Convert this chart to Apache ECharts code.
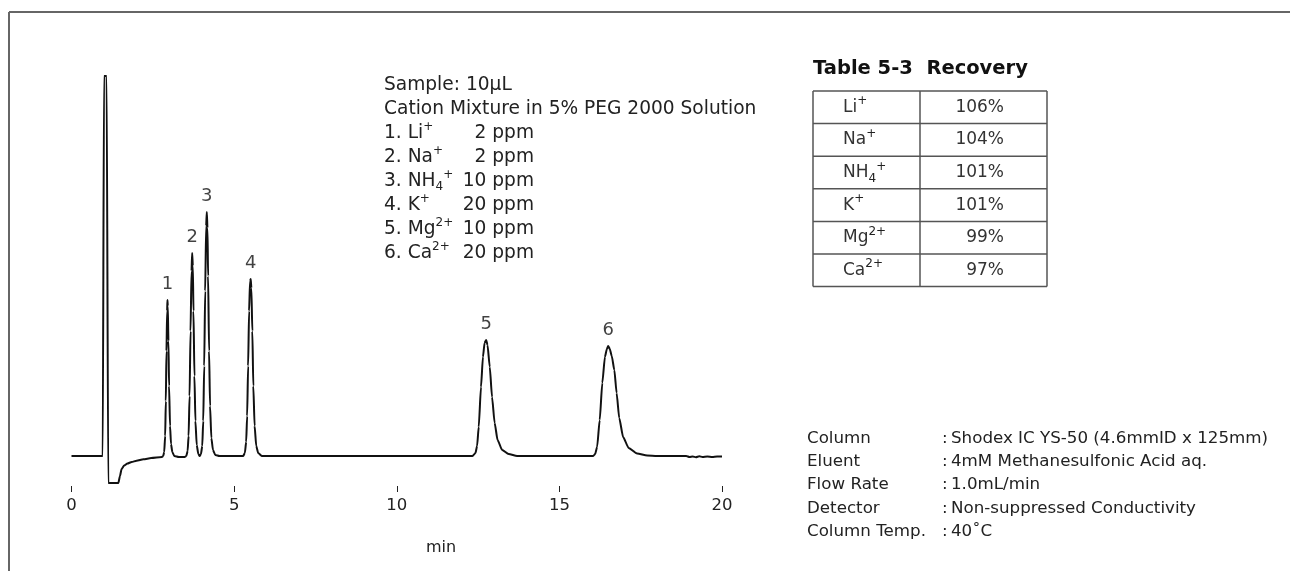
<!DOCTYPE html>
<html><head><meta charset="utf-8">
<script src="https://cdn.jsdelivr.net/npm/echarts@6/dist/echarts.min.js"></script>
<style>html,body{margin:0;padding:0;background:#fff}#c{width:1290px;height:571px}</style>
</head><body><div id="c"></div>
<script>
// ---- chromatogram trace (time in min, detector signal in arbitrary units) ----
const times = [
  0, 0.96, 1.00, 1.08, 1.13, 1.44, 1.49, 1.54, 1.62, 1.72, 1.85, 2.00, 2.21, 2.45, 2.78,
  2.82, 2.85, 2.88, 2.90, 2.92, 2.94, 2.95, 2.96, 2.98, 3.00, 3.03, 3.06, 3.10, 3.16, 3.30, 3.48,
  3.53, 3.57, 3.60, 3.63, 3.66, 3.69, 3.71, 3.73, 3.75, 3.78, 3.81, 3.85, 3.90, 3.94,
  3.98, 4.02, 4.05, 4.08, 4.11, 4.14, 4.16, 4.18, 4.20, 4.23, 4.26, 4.30, 4.35, 4.42, 4.55,
  5.28, 5.33, 5.37, 5.40, 5.43, 5.46, 5.49, 5.51, 5.53, 5.56, 5.59, 5.63, 5.68, 5.74, 5.85,
  12.33, 12.42, 12.47, 12.52, 12.59, 12.65, 12.70, 12.75, 12.79, 12.86, 12.93, 13.01, 13.10, 13.24, 13.44, 13.70,
  16.04, 16.10, 16.16, 16.24, 16.32, 16.40, 16.46, 16.50, 16.55, 16.61, 16.69, 16.76, 16.84, 16.96, 17.13, 17.39, 17.70, 18.00,
  18.90, 19.00, 19.10, 19.20, 19.30, 19.40, 19.55, 19.70, 19.85, 20.00
];
const signal = [
  0, 0, 380, 380, -27, -27, -20, -13, -9.5, -7.5, -6, -4.8, -3.3, -2, -1,
  0, 4, 20, 55, 105, 145, 156, 150, 115, 70, 30, 12, 4, 0, -1, -1,
  0, 5, 20, 60, 125, 185, 203, 190, 145, 80, 35, 11, 2, 0,
  2, 10, 35, 90, 165, 230, 244, 228, 180, 105, 50, 18, 6, 1, 0,
  0, 3, 14, 40, 90, 145, 175, 177, 168, 125, 70, 30, 10, 3, 0,
  0, 3, 10, 29, 69, 99, 113, 116, 111, 89, 59, 33, 16, 6, 2, 0,
  0, 2, 9, 36, 73, 99, 107, 110, 107, 100, 86, 63, 38, 19, 8, 2.5, 0.5, 0,
  0, -1, -0.5, -1.2, -0.3, -1, -0.5, -1, -0.5, -0.5
];
const peakNumbers = ['1', '2', '3', '4', '5', '6'];
const peakTimes = [2.95, 3.71, 4.16, 5.51, 12.75, 16.50];
const peakHeights = [156, 203, 244, 177, 116, 110];
const axisName = 'min';

// ---- sample annotation ----
const sampleLines = ['Sample: 10µL', 'Cation Mixture in 5% PEG 2000 Solution'];
const ionItems = ['1. Li{sup|+}', '2. Na{sup|+}', '3. NH{sub|4}{sup|+}', '4. K{sup|+}', '5. Mg{sup|2+}', '6. Ca{sup|2+}'];
const ionConc = ['2 ppm', '2 ppm', '10 ppm', '20 ppm', '10 ppm', '20 ppm'];

// ---- recovery table ----
const tableTitle = 'Table 5-3  Recovery';
const tableIons = ['Li{sup|+}', 'Na{sup|+}', 'NH{sub|4}{sup|+}', 'K{sup|+}', 'Mg{sup|2+}', 'Ca{sup|2+}'];
const recovery = ['106%', '104%', '101%', '101%', '99%', '97%'];

// ---- conditions ----
const condLabels = ['Column', 'Eluent', 'Flow Rate', 'Detector', 'Column Temp.'];
const condValues = ['Shodex IC YS-50 (4.6mmID x 125mm)', '4mM Methanesulfonic Acid aq.', '1.0mL/min', 'Non-suppressed Conductivity', '40˚C'];

const F = 'DejaVu Sans';
const TXT = '#222';

function richStyles() {
  return {
    sup: { fontSize: 12, lineHeight: 10, verticalAlign: 'top', fontFamily: F, fill: TXT },
    sub: { fontSize: 12, lineHeight: 9, verticalAlign: 'bottom', fontFamily: F, fill: TXT }
  };
}

const g = [];
// frame
g.push({ type: 'line', shape: { x1: 9, y1: 12, x2: 1290, y2: 12 }, style: { stroke: '#666', lineWidth: 2 } });
g.push({ type: 'line', shape: { x1: 9, y1: 12, x2: 9, y2: 571 }, style: { stroke: '#666', lineWidth: 2 } });

// sample block
const allSample = sampleLines.concat(ionItems);
allSample.forEach((t, i) => {
  g.push({ type: 'text', style: { text: t, x: 384, y: 85 + 24 * i, fontFamily: F, fontSize: 18.6, lineHeight: 24,
    fill: TXT, align: 'left', verticalAlign: 'middle', textAlign: 'left', textVerticalAlign: 'middle', rich: richStyles() } });
});
ionConc.forEach((t, i) => {
  g.push({ type: 'text', style: { text: t, x: 534, y: 85 + 24 * (i + 2), fontFamily: F, fontSize: 18.6, lineHeight: 24,
    fill: TXT, align: 'right', verticalAlign: 'middle', textAlign: 'right', textVerticalAlign: 'middle' } });
});

// table
g.push({ type: 'text', style: { text: tableTitle, x: 813, y: 69, fontFamily: F, fontSize: 19.5, fontWeight: 'bold',
  fill: '#111', align: 'left', verticalAlign: 'middle', textAlign: 'left', textVerticalAlign: 'middle' } });
const tx0 = 813, tx1 = 1047, tcol = 920, ty0 = 91, rowH = 32.6;
const tLine = { stroke: '#555', lineWidth: 1.5 };
for (let i = 0; i <= tableIons.length; i++) {
  g.push({ type: 'line', shape: { x1: tx0, y1: ty0 + rowH * i, x2: tx1, y2: ty0 + rowH * i }, style: tLine });
}
[tx0, tcol, tx1].forEach(x => g.push({ type: 'line', shape: { x1: x, y1: ty0, x2: x, y2: ty0 + rowH * tableIons.length }, style: tLine }));
tableIons.forEach((t, i) => {
  const cy = ty0 + rowH * i + rowH / 2;
  g.push({ type: 'text', style: { text: t, x: 843, y: cy, fontFamily: F, fontSize: 17, lineHeight: 24, fill: '#333',
    align: 'left', verticalAlign: 'middle', textAlign: 'left', textVerticalAlign: 'middle', rich: richStyles() } });
  g.push({ type: 'text', style: { text: recovery[i], x: 1004, y: cy, fontFamily: F, fontSize: 17, fill: '#333',
    align: 'right', verticalAlign: 'middle', textAlign: 'right', textVerticalAlign: 'middle' } });
});

// conditions
condLabels.forEach((t, i) => {
  const cy = 438.5 + 23.3 * i;
  g.push({ type: 'text', style: { text: t, x: 807, y: cy, fontFamily: F, fontSize: 16.7, fill: TXT,
    align: 'left', verticalAlign: 'middle', textAlign: 'left', textVerticalAlign: 'middle' } });
  g.push({ type: 'text', style: { text: ':', x: 942, y: cy, fontFamily: F, fontSize: 16.7, fill: TXT,
    align: 'left', verticalAlign: 'middle', textAlign: 'left', textVerticalAlign: 'middle' } });
  g.push({ type: 'text', style: { text: condValues[i], x: 951, y: cy, fontFamily: F, fontSize: 16.7, fill: TXT,
    align: 'left', verticalAlign: 'middle', textAlign: 'left', textVerticalAlign: 'middle' } });
});

// axis title
g.push({ type: 'text', style: { text: axisName, x: 441, y: 548, fontFamily: F, fontSize: 16, fill: TXT,
  align: 'center', verticalAlign: 'middle', textAlign: 'center', textVerticalAlign: 'middle' } });

const chart = echarts.init(document.getElementById('c'), null, { renderer: 'canvas' });
chart.setOption({
  animation: false,
  backgroundColor: '#fff',
  grid: { left: 71.5, right: 568, top: 40, bottom: 85, containLabel: false },
  xAxis: {
    type: 'value', min: 0, max: 20, interval: 5,
    axisLine: { show: false, onZero: false },
    axisTick: { show: true, length: 6, inside: false, lineStyle: { color: '#222', width: 1 } },
    axisLabel: { fontFamily: F, fontSize: 16.5, color: TXT, margin: 11 },
    splitLine: { show: false }
  },
  yAxis: { type: 'value', min: -30, max: 416, show: false, splitLine: { show: false } },
  series: [
    {
      type: 'line', data: times.map((t, i) => [t, signal[i]]),
      showSymbol: false, symbol: 'none', clip: false,
      smooth: 0.2, smoothMonotone: 'x',
      lineStyle: { color: '#111', width: 2, join: 'round' }
    },
    {
      type: 'scatter', symbolSize: 1, itemStyle: { color: 'rgba(0,0,0,0)' },
      data: peakTimes.map((t, i) => ({ value: [t, peakHeights[i]], name: peakNumbers[i] })),
      label: { show: true, position: 'top', distance: 6, formatter: '{b}', fontFamily: F, fontSize: 18, color: '#111' }
    }
  ],
  graphic: { elements: g }
});
</script>
</body></html>
